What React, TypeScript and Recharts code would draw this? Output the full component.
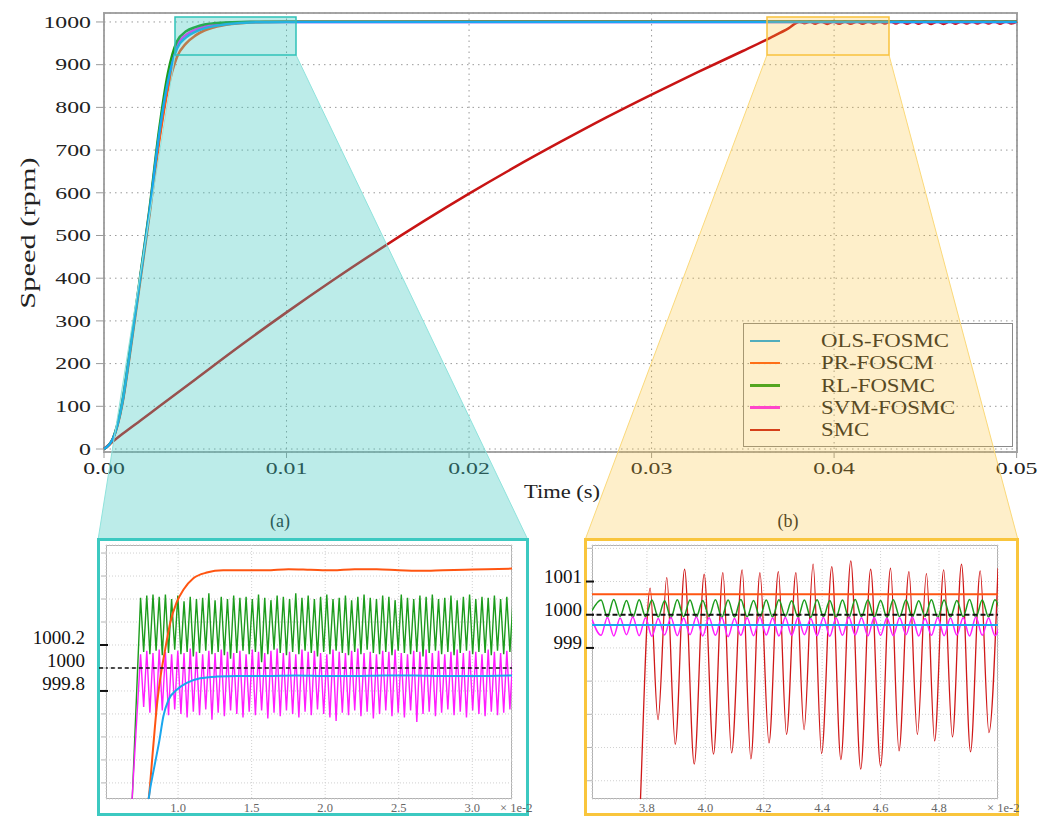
import React from "react";
import { LineChart, Line, XAxis, YAxis, CartesianGrid, Legend } from "recharts";

const SERIF = "'Liberation Serif', 'DejaVu Serif', serif";

const seriesNames = ["OLS-FOSMC", "PR-FOSCM", "RL-FOSMC", "SVM-FOSMC", "SMC"];
const lineColors = ["#1aa7ee", "#ff5511", "#1c9c1c", "#ff1dff", "#c81414"];
const refSpeed = 1000;

// main plot axes
const mainTicksX = [0, 0.01, 0.02, 0.03, 0.04, 0.05];
const mainTicksY = [0, 100, 200, 300, 400, 500, 600, 700, 800, 900, 1000];

// start-up of the four FOSMC variants (time in s, speed in rpm)
const riseTime = [0, 0.0005, 0.001, 0.0015, 0.002, 0.0025, 0.003, 0.0035, 0.004, 0.0045, 0.005, 0.0055, 0.006, 0.007, 0.008, 0.009, 0.01, 0.02, 0.03, 0.04, 0.05];
const olsRise = [0, 25, 108, 252, 405, 558, 730, 860, 938, 964, 977, 985, 990, 996, 998.8, 999.6, 999.8, 999.93, 999.93, 999.93, 999.93];
const prRise = [0, 24, 104, 246, 398, 550, 712, 842, 918, 950, 968, 980, 987, 995, 999, 1000.2, 1000.6, 1000.85, 1000.85, 1000.85, 1000.85];
const rlRise = [0, 26, 110, 256, 410, 565, 742, 880, 955, 978, 988, 994, 997, 999.6, 1000.4, 1000.4, 1000.4, 1000.4, 1000.4, 1000.4, 1000.4];
const svmRise = [0, 25, 107, 253, 406, 560, 732, 868, 945, 970, 982, 989, 993, 998.5, 999.9, 999.9, 999.9, 999.9, 999.9, 999.9, 999.9];

// SMC ramp (s, rpm)
const smcRiseTime = [0, 0.0005, 0.001, 0.002, 0.003, 0.005, 0.0075, 0.01, 0.0125, 0.015, 0.0175, 0.02, 0.0225, 0.025, 0.0275, 0.03, 0.0325, 0.035, 0.0365, 0.0375];
const smcRise = [0, 18, 35, 67, 99, 163, 243, 320, 394, 465, 533, 598, 660, 719, 776, 830, 882, 932, 963, 985];

// zoom (b): time in 1e-2 s
const smcZoomX = [3.76, 3.777, 3.811, 3.838, 3.868, 3.897, 3.929, 3.962, 3.996, 4.028, 4.06, 4.09, 4.126, 4.156, 4.187, 4.218, 4.25, 4.278, 4.31, 4.338, 4.369, 4.398, 4.433, 4.464, 4.498, 4.532, 4.566, 4.6, 4.634, 4.663, 4.697, 4.726, 4.757, 4.785, 4.816, 4.846, 4.877, 4.908, 4.941, 4.971, 5.002];
const smcZoomY = [990, 994.2, 1000.8, 996.84, 1001.12, 996.1, 1001.37, 995.5, 1001.22, 995.8, 1001.27, 995.84, 1001.35, 995.66, 1001.27, 996.14, 1001.3, 996.4, 1001.27, 996.54, 1001.52, 995.82, 1001.45, 995.64, 1001.62, 995.35, 1001.37, 995.44, 1001.4, 995.9, 1001.3, 996.4, 1001.24, 996.2, 1001.35, 996.32, 1001.52, 995.87, 1001.32, 996.45, 1001.4];
const bTicksX = [3.8, 4.0, 4.2, 4.4, 4.6, 4.8];
const bTicksY = [995, 996, 997, 998, 999, 1000, 1001, 1002];
const bLabels = [999, 1000, 1001];
const bOrange = 1000.62;
const bBlue = 999.69;
const bOscStart = 3.643;
const bOscHalf = 0.02175;
const bRlLead = 1000.12;
const bRlPeaks = [1000.44, 1000.46, 1000.43, 1000.45, 1000.44, 1000.42, 1000.45, 1000.44, 1000.43, 1000.45, 1000.44, 1000.46, 1000.43, 1000.44, 1000.45, 1000.42, 1000.44, 1000.45, 1000.43, 1000.44, 1000.46, 1000.44, 1000.43, 1000.45, 1000.44, 1000.42, 1000.45, 1000.44, 1000.43, 1000.46, 1000.44, 1000.45];
const bRlTroughs = [999.93, 999.95, 999.92, 999.94, 999.93, 999.91, 999.94, 999.93, 999.95, 999.92, 999.93, 999.94, 999.92, 999.93, 999.95, 999.93, 999.92, 999.94, 999.93, 999.91, 999.94, 999.93, 999.92, 999.94, 999.93, 999.95, 999.92, 999.93, 999.94, 999.92, 999.93, 999.94];
const bSvmLead = 999.86;
const bSvmTroughs = [999.38, 999.36, 999.4, 999.37, 999.35, 999.39, 999.37, 999.4, 999.36, 999.38, 999.34, 999.38, 999.37, 999.39, 999.36, 999.38, 999.4, 999.37, 999.35, 999.38, 999.39, 999.36, 999.38, 999.37, 999.4, 999.36, 999.38, 999.37, 999.39, 999.36, 999.38, 999.37];
const bSvmPeaks = [999.92, 999.9, 999.93, 999.91, 999.89, 999.92, 999.9, 999.93, 999.91, 999.92, 999.89, 999.91, 999.93, 999.9, 999.92, 999.91, 999.89, 999.92, 999.9, 999.93, 999.91, 999.92, 999.9, 999.91, 999.93, 999.89, 999.92, 999.9, 999.91, 999.93, 999.9, 999.92];

// zoom (a): time in 1e-2 s
const aTicksX = [1.0, 1.5, 2.0, 2.5, 3.0];
const aTicksY = [999.0, 999.2, 999.4, 999.6, 999.8, 1000, 1000.2, 1000.4, 1000.6, 1000.8, 1001.0];
const aLabels = [999.8, 1000, 1000.2];
const prZoomX = [0.78, 0.8, 0.83, 0.855, 0.878, 0.912, 0.946, 0.99, 1.036, 1.104, 1.195, 1.306, 1.45, 1.6, 1.75, 1.9, 2.05, 2.2, 2.35, 2.5, 2.65, 2.8, 2.95, 3.1, 3.28];
const prZoomY = [998.7, 998.86, 999.3, 999.66, 999.9, 1000.16, 1000.39, 1000.57, 1000.68, 1000.78, 1000.83, 1000.85, 1000.85, 1000.85, 1000.86, 1000.855, 1000.85, 1000.86, 1000.86, 1000.85, 1000.845, 1000.85, 1000.855, 1000.86, 1000.865];
const olsZoomX = [0.79, 0.8, 0.84, 0.873, 0.9, 0.934, 0.991, 1.059, 1.15, 1.263, 1.4, 1.6, 1.8, 2.0, 2.2, 2.4, 2.6, 2.8, 3.0, 3.28];
const olsZoomY = [998.75, 998.86, 999.15, 999.37, 999.58, 999.72, 999.81, 999.87, 999.91, 999.925, 999.93, 999.93, 999.935, 999.93, 999.93, 999.935, 999.935, 999.93, 999.93, 999.935];
const aOscStart = 0.745;
const aOscHalf = 0.0211;
const aRlLead = [0.68, 998.6];
const aRlPeaks = [1000.61, 1000.63, 1000.64, 1000.62, 1000.64, 1000.6, 1000.63, 1000.58, 1000.62, 1000.6, 1000.61, 1000.65, 1000.59, 1000.62, 1000.6, 1000.63, 1000.61, 1000.62, 1000.6, 1000.64, 1000.61, 1000.59, 1000.63, 1000.62, 1000.6, 1000.65, 1000.61, 1000.63, 1000.6, 1000.62, 1000.64, 1000.6, 1000.61, 1000.63, 1000.59, 1000.62, 1000.64, 1000.61, 1000.6, 1000.63, 1000.62, 1000.59, 1000.64, 1000.61, 1000.6, 1000.63, 1000.62, 1000.64, 1000.6, 1000.61, 1000.63, 1000.59, 1000.62, 1000.64, 1000.6, 1000.62, 1000.61, 1000.63, 1000.6, 1000.62, 1000.59];
const aRlTroughs = [1000.14, 1000.12, 1000.15, 1000.11, 1000.13, 1000.16, 1000.12, 1000.14, 1000.1, 1000.13, 1000.15, 1000.12, 1000.14, 1000.11, 1000.08, 1000.13, 1000.15, 1000.12, 1000.14, 1000.05, 1000.12, 1000.16, 1000.13, 1000.11, 1000.14, 1000.12, 1000.15, 1000.13, 1000.1, 1000.14, 1000.12, 1000.15, 1000.13, 1000.11, 1000.14, 1000.12, 1000.16, 1000.13, 1000.12, 1000.14, 1000.11, 1000.15, 1000.13, 1000.12, 1000.14, 1000.1, 1000.13, 1000.15, 1000.12, 1000.14, 1000.11, 1000.13, 1000.15, 1000.12, 1000.14, 1000.13, 1000.11, 1000.15, 1000.12, 1000.14];
const aSvmLead = [0.68, 998.7];
const aSvmPeaks = [1000.12, 1000.15, 1000.13, 1000.16, 1000.14, 1000.12, 1000.15, 1000.13, 1000.17, 1000.14, 1000.12, 1000.15, 1000.13, 1000.16, 1000.14, 1000.13, 1000.15, 1000.12, 1000.16, 1000.14, 1000.13, 1000.15, 1000.17, 1000.13, 1000.14, 1000.12, 1000.16, 1000.14, 1000.15, 1000.13, 1000.12, 1000.16, 1000.14, 1000.13, 1000.15, 1000.17, 1000.13, 1000.14, 1000.12, 1000.15, 1000.14, 1000.16, 1000.13, 1000.12, 1000.15, 1000.14, 1000.16, 1000.13, 1000.15, 1000.12, 1000.14, 1000.16, 1000.13, 1000.15, 1000.14, 1000.12, 1000.16, 1000.14, 1000.13, 1000.15, 1000.14];
const aSvmTroughs = [999.66, 999.61, 999.58, 999.63, 999.59, 999.64, 999.6, 999.57, 999.62, 999.59, 999.64, 999.55, 999.61, 999.58, 999.63, 999.6, 999.57, 999.62, 999.59, 999.63, 999.56, 999.61, 999.58, 999.63, 999.6, 999.57, 999.62, 999.59, 999.64, 999.6, 999.57, 999.54, 999.61, 999.59, 999.63, 999.58, 999.62, 999.56, 999.6, 999.63, 999.58, 999.61, 999.57, 999.63, 999.53, 999.6, 999.62, 999.58, 999.61, 999.64, 999.59, 999.62, 999.57, 999.63, 999.6, 999.58, 999.62, 999.59, 999.61, 999.64];

const pairs = (xs: number[], ys: number[]) => xs.map((x, i) => ({ x, v: ys[i] }));

// alternate extremes on a fixed sample step
const interleave = (x0: number, half: number, first: number[], second: number[]) => {
  const out: { x: number; v: number }[] = [];
  let k = 0;
  first.forEach((v, i) => {
    out.push({ x: x0 + k++ * half, v });
    if (i < second.length) out.push({ x: x0 + k++ * half, v: second[i] });
  });
  return out;
};

const mainSeries = [
  pairs(riseTime, olsRise),
  pairs(riseTime, prRise),
  pairs(riseTime, rlRise),
  pairs(riseTime, svmRise),
  [...pairs(smcRiseTime, smcRise), ...pairs(smcZoomX.map((x) => x / 100), smcZoomY).slice(2)],
];

const aData = {
  ols: pairs(olsZoomX, olsZoomY),
  pr: pairs(prZoomX, prZoomY),
  rl: [{ x: aRlLead[0], v: aRlLead[1] }, ...interleave(aOscStart, aOscHalf, aRlPeaks, aRlTroughs)],
  svm: [{ x: aSvmLead[0], v: aSvmLead[1] }, ...interleave(aOscStart, aOscHalf, aSvmPeaks, aSvmTroughs)],
  ref: [{ x: 0.4, v: refSpeed }, { x: 3.4, v: refSpeed }],
};

const bData = {
  ols: [{ x: 3.6, v: bBlue }, { x: 5.01, v: bBlue }],
  pr: [{ x: 3.6, v: bOrange }, { x: 5.01, v: bOrange }],
  rl: [{ x: 3.612, v: bRlLead }, ...interleave(bOscStart, bOscHalf, bRlPeaks, bRlTroughs)],
  svm: [{ x: 3.612, v: bSvmLead }, ...interleave(bOscStart, bOscHalf, bSvmTroughs, bSvmPeaks)],
  smc: pairs(smcZoomX, smcZoomY),
  ref: [{ x: 3.6, v: refSpeed }, { x: 5.01, v: refSpeed }],
};

const stretch = (x: number, y: number, s: number) => `translate(${x} ${y}) scale(${s} 1) translate(${-x} ${-y})`;

const MainYTick = ({ x, y, payload }: any) => (
  <text x={x} y={y} textAnchor="end" dominantBaseline="central" fontSize={17} fontFamily={SERIF} fill="#222" transform={stretch(x, y, 1.4)}>
    {payload.value}
  </text>
);

const MainXTick = ({ x, y, payload }: any) => (
  <text x={x} y={y + 8} textAnchor="middle" dominantBaseline="central" fontSize={17} fontFamily={SERIF} fill="#222" transform={stretch(x, y + 8, 1.4)}>
    {Number(payload.value).toFixed(2)}
  </text>
);

const makeInsetYTick = (labels: number[], gap: number, dy: number, dashRef: boolean) => ({ x, y, payload }: any) => {
  const v = payload.value;
  const labelled = labels.some((l) => Math.abs(l - v) < 1e-6);
  const isRef = dashRef && v === refSpeed;
  return (
    <g>
      <line x1={x - 5} x2={x} y1={y} y2={y} stroke="#b5b5b5" />
      {labelled && isRef && <line x1={x - 7} x2={x} y1={y} y2={y} stroke="#111" strokeWidth={1.5} strokeDasharray="4 3" />}
      {labelled && !isRef && <line x1={x - 6} x2={x + 2} y1={y} y2={y} stroke="#111" strokeWidth={2} />}
      {labelled && (
        <text x={x - gap} y={y + dy} textAnchor="end" dominantBaseline="central" fontSize={19} fontFamily={SERIF} fill="#111">
          {String(v)}
        </text>
      )}
    </g>
  );
};

const InsetXTick = ({ x, y, payload }: any) => (
  <text x={x} y={y + 9} textAnchor="middle" dominantBaseline="central" fontSize={12.5} fontFamily={SERIF} fill="#666">
    {Number(payload.value).toFixed(1)}
  </text>
);

const LegendBox = () => (
  <div style={{ width: 270, height: 124, boxSizing: "border-box", border: "1.5px solid #8a8a8a", position: "relative", fontFamily: SERIF }}>
    {seriesNames.map((name, i) => {
      const c = 17 + i * 22.3;
      return (
        <React.Fragment key={name}>
          <span style={{ position: "absolute", left: 6, top: c - 1.5, width: 30, height: 2.5, background: lineColors[i] }} />
          <span style={{ position: "absolute", left: 77, top: c - 11, lineHeight: "22px", fontSize: 19, color: "#222", whiteSpace: "nowrap", transform: "scaleX(1.2)", transformOrigin: "left center" }}>
            {name}
          </span>
        </React.Fragment>
      );
    })}
  </div>
);

const abs = (left: number, top: number, z: number, extra: any = {}) => ({ position: "absolute" as const, left, top, zIndex: z, ...extra });

export default function App() {
  const order = [4, 3, 1, 2, 0];
  return (
    <div style={{ position: "absolute", left: 0, top: 0, width: 1056, height: 816, background: "#fff", overflow: "hidden", fontFamily: SERIF }}>
      {/* main plot frame */}
      <div style={abs(103, 12, 0, { width: 915, height: 441, boxSizing: "border-box", border: "2px solid #a5a5a5" })} />
      <div style={abs(0, 0, 1)}>
        <LineChart width={1056} height={520} margin={{ top: 13, right: 39, left: 34, bottom: 38 }}>
          <CartesianGrid stroke="#9a9a9a" strokeDasharray="1.5 4" />
          <XAxis type="number" dataKey="x" domain={[0, 0.05]} ticks={mainTicksX} interval={0} tick={MainXTick} tickSize={6} tickMargin={2} height={30} axisLine={false} stroke="#9a9a9a" />
          <YAxis type="number" domain={[-7, 1021]} ticks={mainTicksY} interval={0} tick={MainYTick} tickSize={8} tickMargin={5} width={70} axisLine={false} stroke="#9a9a9a" />
          {order.map((i) => (
            <Line key={seriesNames[i]} data={mainSeries[i]} dataKey="v" name={seriesNames[i]} type="monotone" stroke={lineColors[i]} strokeWidth={2.5} dot={false} isAnimationActive={false} />
          ))}
          <Legend layout="vertical" align="center" verticalAlign="middle" content={() => <LegendBox />} wrapperStyle={{ left: 743, top: 323, width: 270, height: 124 }} />
        </LineChart>
      </div>
      {/* axis titles and panel tags */}
      <svg width={1056} height={816} style={abs(0, 0, 2, { pointerEvents: "none" })}>
        <text x={562} y={492} textAnchor="middle" dominantBaseline="central" fontSize={18} fontFamily={SERIF} fill="#222" transform={stretch(562, 492, 1.25)}>Time (s)</text>
        <text x={28} y={233} textAnchor="middle" dominantBaseline="central" fontSize={21} fontFamily={SERIF} fill="#222" transform={`rotate(-90 28 233) ${stretch(28, 233, 1.45)}`}>Speed (rpm)</text>
        <text x={280} y={521} textAnchor="middle" dominantBaseline="central" fontSize={18} fontFamily={SERIF} fill="#222">(a)</text>
        <text x={788} y={521} textAnchor="middle" dominantBaseline="central" fontSize={18} fontFamily={SERIF} fill="#222">(b)</text>
      </svg>
      {/* zoom windows and funnels */}
      <svg width={1056} height={816} style={abs(0, 0, 3, { pointerEvents: "none" })}>
        <polygon points="175,17 296,17 296,55 528,540 98,540 175,55" fill="rgb(60,200,190)" fillOpacity={0.34} />
        <polyline points="175,55 98,540" stroke="#8fe3dc" fill="none" />
        <polyline points="296,55 528,540" stroke="#8fe3dc" fill="none" />
        <rect x={175} y={17} width={121} height={38} fill="none" stroke="#2fc2b8" strokeWidth={1.5} />
        <polygon points="767,17 889,17 889,55 1018,540 585,540 767,55" fill="rgb(251,192,45)" fillOpacity={0.25} />
        <polyline points="767,55 585,540" stroke="#fbd97a" fill="none" />
        <polyline points="889,55 1018,540" stroke="#fbd97a" fill="none" />
        <rect x={767} y={17} width={122} height={38} fill="none" stroke="#f9c23c" strokeWidth={1.5} />
      </svg>
      {/* inset boxes */}
      <div style={abs(97, 538, 4, { width: 432, height: 278, boxSizing: "border-box", border: "3px solid #3cc9c1", background: "#fff" })} />
      <div style={abs(584, 538, 4, { width: 435, height: 278, boxSizing: "border-box", border: "3px solid #f9c53c", background: "#fff" })} />
      <div style={abs(106, 545, 5, { width: 406, height: 254, boxSizing: "border-box", border: "1px solid #b0b0b0" })} />
      <div style={abs(592, 545, 5, { width: 406, height: 254, boxSizing: "border-box", border: "1px solid #b0b0b0" })} />
      <div style={abs(500, 800, 6, { fontSize: 12.5, color: "#666", lineHeight: "16px" })}>× 1e-2</div>
      <div style={abs(987, 800, 6, { fontSize: 12.5, color: "#666", lineHeight: "16px" })}>× 1e-2</div>

      {/* inset (a) */}
      <div style={abs(0, 540, 7)}>
        <LineChart width={528} height={276} margin={{ top: 5, right: 16, left: 6, bottom: 2 }}>
          <CartesianGrid stroke="#d0d0d0" strokeDasharray="1 2" />
          <XAxis type="number" dataKey="x" domain={[0.51, 3.27]} allowDataOverflow ticks={aTicksX} interval={0} tick={InsetXTick} tickSize={0} tickMargin={0} tickLine={false} axisLine={false} height={15} />
          <YAxis type="number" domain={[998.86, 1001.07]} allowDataOverflow ticks={aTicksY} interval={0} tick={makeInsetYTick(aLabels, 21, -7, true)} tickSize={0} tickMargin={0} tickLine={false} axisLine={false} width={100} />
          <Line data={aData.rl} dataKey="v" type="linear" stroke={lineColors[2]} strokeWidth={1.4} dot={false} isAnimationActive={false} />
          <Line data={aData.svm} dataKey="v" type="linear" stroke={lineColors[3]} strokeWidth={1.4} dot={false} isAnimationActive={false} />
          <Line data={aData.pr} dataKey="v" type="monotone" stroke={lineColors[1]} strokeWidth={2} dot={false} isAnimationActive={false} />
          <Line data={aData.ols} dataKey="v" type="monotone" stroke={lineColors[0]} strokeWidth={2} dot={false} isAnimationActive={false} />
          <Line data={aData.ref} dataKey="v" type="linear" stroke="#111" strokeWidth={1.5} strokeDasharray="4 3" dot={false} isAnimationActive={false} />
        </LineChart>
      </div>

      {/* inset (b) */}
      <div style={abs(530, 540, 7)}>
        <LineChart width={488} height={276} margin={{ top: 5, right: 20, left: 2, bottom: 2 }}>
          <CartesianGrid stroke="#d0d0d0" strokeDasharray="1 2" />
          <XAxis type="number" dataKey="x" domain={[3.612, 5.002]} allowDataOverflow ticks={bTicksX} interval={0} tick={InsetXTick} tickSize={0} tickMargin={0} tickLine={false} axisLine={false} height={15} />
          <YAxis type="number" domain={[994.45, 1002.1]} allowDataOverflow ticks={bTicksY} interval={0} tick={makeInsetYTick(bLabels, 10, -5, false)} tickSize={0} tickMargin={0} tickLine={false} axisLine={false} width={60} />
          <Line data={bData.smc} dataKey="v" type="monotone" stroke="#d01818" strokeWidth={1.3} dot={false} isAnimationActive={false} />
          <Line data={bData.rl} dataKey="v" type="monotone" stroke={lineColors[2]} strokeWidth={1.5} dot={false} isAnimationActive={false} />
          <Line data={bData.svm} dataKey="v" type="monotone" stroke={lineColors[3]} strokeWidth={1.5} dot={false} isAnimationActive={false} />
          <Line data={bData.pr} dataKey="v" type="linear" stroke={lineColors[1]} strokeWidth={2} dot={false} isAnimationActive={false} />
          <Line data={bData.ols} dataKey="v" type="linear" stroke={lineColors[0]} strokeWidth={2} dot={false} isAnimationActive={false} />
          <Line data={bData.ref} dataKey="v" type="linear" stroke="#111" strokeWidth={1.8} strokeDasharray="5 3" dot={false} isAnimationActive={false} />
        </LineChart>
      </div>
    </div>
  );
}
